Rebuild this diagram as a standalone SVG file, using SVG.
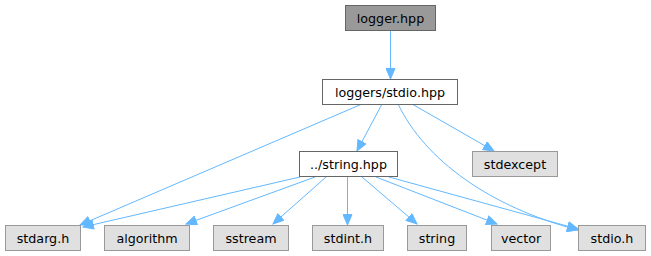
<svg xmlns="http://www.w3.org/2000/svg" width="651" height="256" viewBox="0 0 651 256">
<style>
.n rect{stroke-width:1}
.sys rect{fill:#e0e0e0;stroke:#999}
.loc rect{fill:#fff;stroke:#666}
.root rect{fill:#999;stroke:#666}
text{font-family:"DejaVu Sans",sans-serif;font-size:12.7px;fill:#000;text-anchor:middle}
.e path{fill:none;stroke:#63b8ff;stroke-width:1;marker-end:url(#ah)}
</style>
<defs>
<marker id="ah" markerUnits="userSpaceOnUse" markerWidth="12" markerHeight="10" refX="11" refY="5" orient="auto">
<path d="M0.5,0.5 L11,5 L0.5,9.5 z" fill="#63b8ff" stroke="#63b8ff" stroke-width="1"/>
</marker>
</defs>
<g id="edges" class="e">
<path d="M390.5,31 L390.5,79"/>
<path d="M362,104 L80,225"/>
<path d="M382,104 L357,151"/>
<path d="M412,104 L494,151"/>
<path d="M398,104 C425,160 490,207 578,230"/>
<path d="M300,177 L83,227"/>
<path d="M315,177 L186,224"/>
<path d="M326,177 L273,224"/>
<path d="M347.5,177 L347.5,225"/>
<path d="M362,177 L417,224"/>
<path d="M376,177 L497,224"/>
<path d="M389,177 L578,229"/>
</g>
<g id="logger" class="n root"><rect x="345.5" y="5.5" width="90" height="25"/><text x="390.5" y="22.5">logger.hpp</text></g>
<g id="stdio_hpp" class="n loc"><rect x="322.5" y="79.5" width="135" height="25"/><text x="390" y="96.5">loggers/stdio.hpp</text></g>
<g id="string_hpp" class="n loc"><rect x="299.5" y="151.5" width="98" height="25"/><text x="348.5" y="168.5">../string.hpp</text></g>
<g id="stdexcept" class="n sys"><rect x="472.5" y="151.5" width="85" height="25"/><text x="515" y="168.5">stdexcept</text></g>
<g id="stdarg" class="n sys"><rect x="5.5" y="225.5" width="75" height="25"/><text x="43" y="242.5">stdarg.h</text></g>
<g id="algorithm" class="n sys"><rect x="104.5" y="225.5" width="85" height="25"/><text x="147" y="242.5">algorithm</text></g>
<g id="sstream" class="n sys"><rect x="213.5" y="225.5" width="75" height="25"/><text x="251" y="242.5">sstream</text></g>
<g id="stdint" class="n sys"><rect x="312.5" y="225.5" width="71" height="25"/><text x="348" y="242.5">stdint.h</text></g>
<g id="string" class="n sys"><rect x="407.5" y="225.5" width="59" height="25"/><text x="437" y="242.5">string</text></g>
<g id="vector" class="n sys"><rect x="491.5" y="225.5" width="59" height="25"/><text x="521" y="242.5">vector</text></g>
<g id="stdio_h" class="n sys"><rect x="578.5" y="225.5" width="67" height="25"/><text x="612" y="242.5">stdio.h</text></g>
</svg>
